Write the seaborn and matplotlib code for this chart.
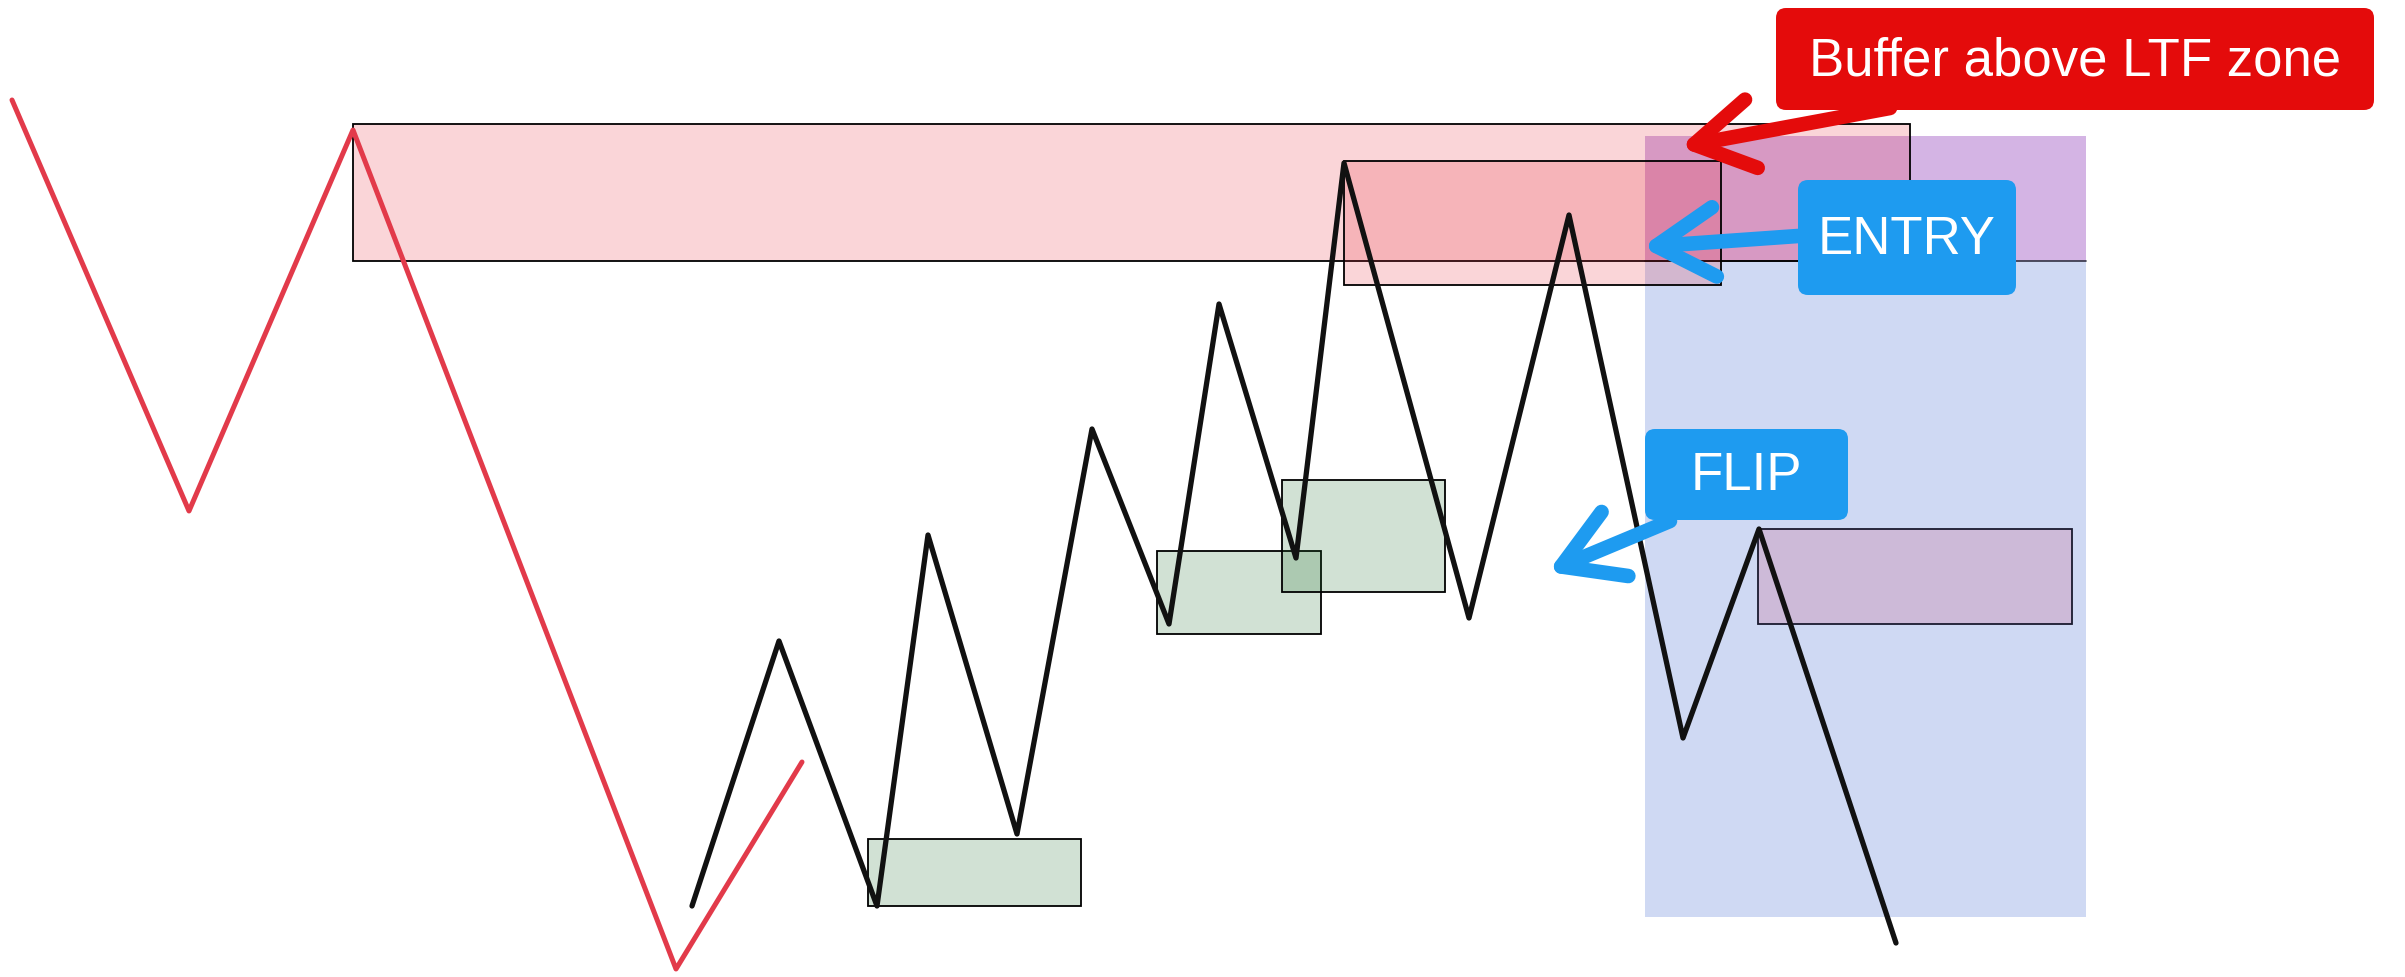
"""Price structure sketch: HTF supply zone, LTF entry zone and flip zone."""

import matplotlib
matplotlib.use('Agg')
import matplotlib.pyplot as plt
import matplotlib.patches as mpatches
import seaborn as sns

# HTF leg (red), positions (x = time, y = level from top)
htf_x = [12, 189, 353, 676, 802]
htf_y = [100, 511, 130, 969, 762]

# LTF swing path (black)
ltf_x = [692, 779, 877, 928, 1017, 1092, 1169, 1219, 1296, 1344, 1469, 1569, 1683, 1759, 1896]
ltf_y = [906, 641, 906, 535, 834, 429, 624, 304, 558, 163, 618, 215, 738, 529, 943]

# zones as (start, end, top, bottom)
htf_zone = (353, 1910, 124, 261)
entry_zone = (1344, 1721, 161, 285)
demand_zones = [(868, 1081, 839, 906), (1157, 1321, 551, 634), (1282, 1445, 480, 592)]
flip_zone = (1758, 2072, 529, 624)
trade_window = (1645, 2086, 136, 917)
buffer_band = (1645, 2086, 136, 261)

# callouts
labels = ['Buffer above LTF zone', 'ENTRY', 'FLIP']
label_boxes = [(1776, 2374, 8, 110), (1798, 2016, 180, 295), (1645, 1848, 429, 520)]
label_colors = ['#e40b0b', '#1e9bf0', '#1e9bf0']
arrow_tails = [(1890, 108), (1798, 236), (1670, 521)]
arrow_tips = [(1680, 147), (1642, 247), (1548, 572)]


def add_zone(ax, zone, **kw):
    x0, x1, y0, y1 = zone
    ax.add_patch(mpatches.Rectangle((x0, y0), x1 - x0, y1 - y0, **kw))


sns.set_style('white')
plt.rcParams['font.family'] = ['Liberation Sans', 'DejaVu Sans']

fig = plt.figure(figsize=(24.05, 9.77), dpi=100)
ax = fig.add_axes([0, 0, 1, 1])

# background windows
add_zone(ax, trade_window, facecolor='#cfd9f3', edgecolor='none', zorder=1)
add_zone(ax, buffer_band, facecolor='#e070c8', alpha=0.35, edgecolor='none', zorder=1.5)
ax.plot([buffer_band[0], buffer_band[1]], [buffer_band[3], buffer_band[3]],
        color='#333344', lw=1.2, zorder=1.6)

# zones
add_zone(ax, htf_zone, facecolor=(0.91, 0.19, 0.25, 0.2), edgecolor='black', lw=1.3, zorder=2)
add_zone(ax, entry_zone, facecolor=(0.91, 0.19, 0.25, 0.2), edgecolor='black', lw=1.3, zorder=2.1)
for z in demand_zones:
    add_zone(ax, z, facecolor=(0.11, 0.42, 0.16, 0.2), edgecolor='black', lw=1.3, zorder=2)
add_zone(ax, flip_zone, facecolor=(0.78, 0.31, 0.47, 0.22), edgecolor='#1a1a2e', lw=1.3, zorder=2)

# price paths
sns.lineplot(x=htf_x, y=htf_y, sort=False, color='#e23a4a', linewidth=3.6, ax=ax, zorder=3)
sns.lineplot(x=ltf_x, y=ltf_y, sort=False, color='#111111', linewidth=3.8, ax=ax, zorder=3)

# callout boxes + arrows
r = 10
for text, box, col, tail, tip in zip(labels, label_boxes, label_colors, arrow_tails, arrow_tips):
    x0, x1, y0, y1 = box
    ax.annotate('', xy=tip, xytext=tail,
                arrowprops=dict(arrowstyle='->,head_length=4.2,head_width=2.5',
                                color=col, lw=10.5, shrinkA=0, shrinkB=0,
                                capstyle='round', joinstyle='round'),
                zorder=4)
    ax.add_patch(mpatches.FancyBboxPatch((x0 + r, y0 + r), x1 - x0 - 2 * r, y1 - y0 - 2 * r,
                                         boxstyle=f'round,pad={r}', facecolor=col,
                                         edgecolor='none', zorder=5))
    ax.text((x0 + x1) / 2, (y0 + y1) / 2 + 2, text, ha='center', va='center',
            color='white', fontsize=38, zorder=6)

ax.set_xlim(0, 2405)
ax.set_ylim(977, 0)
ax.axis('off')

plt.savefig('out.png', dpi=100)
plt.close()
